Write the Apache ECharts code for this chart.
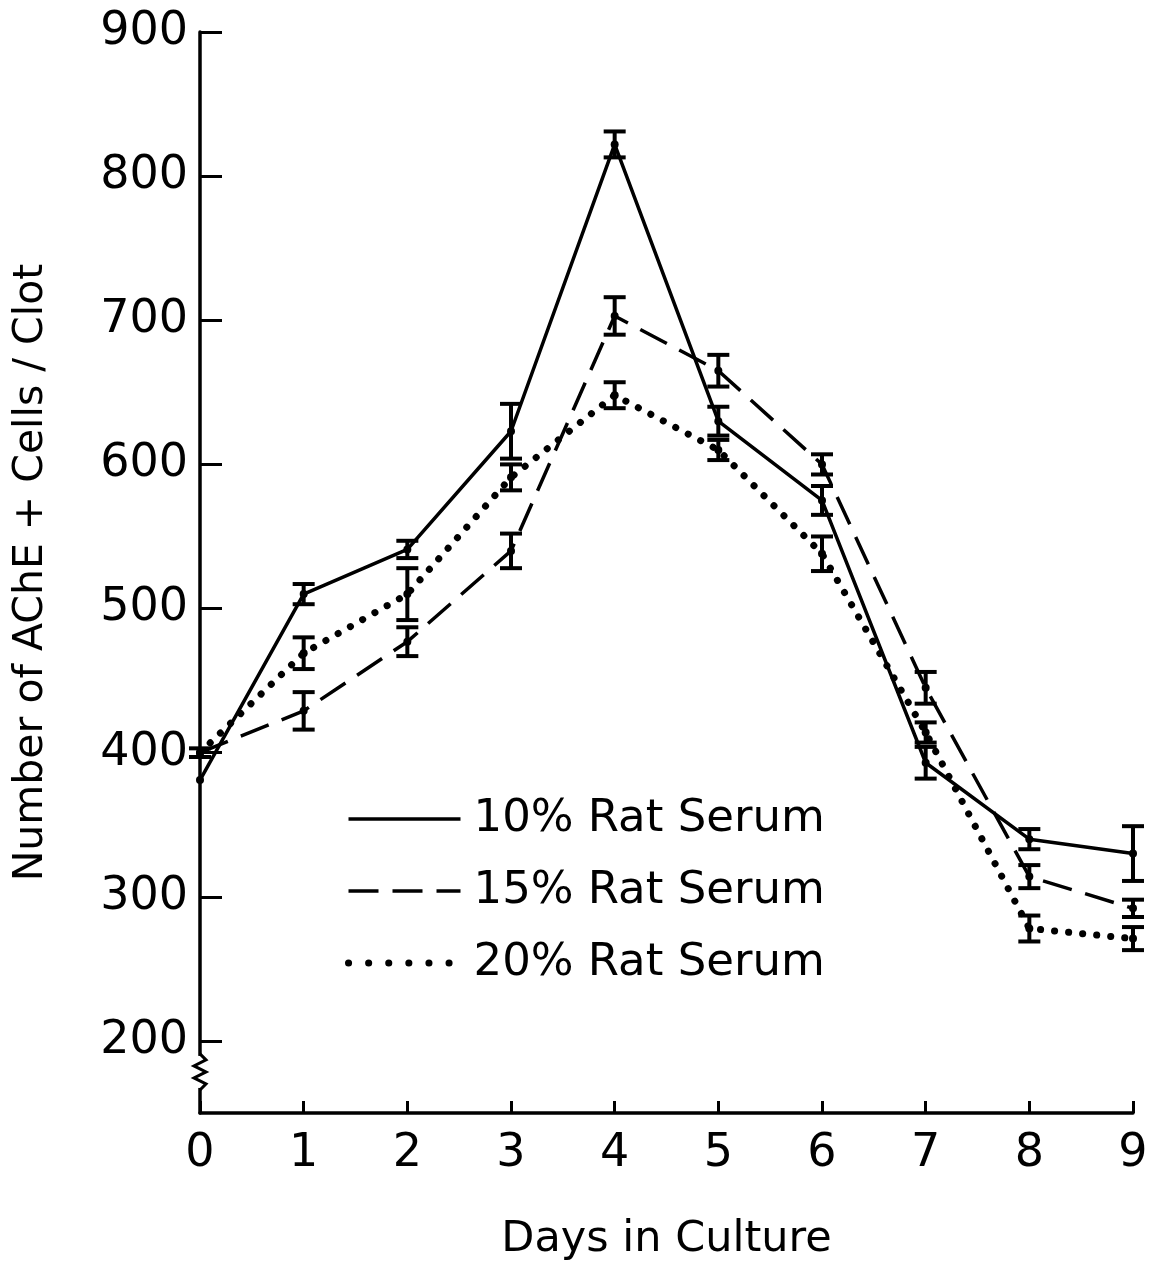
<!DOCTYPE html>
<html>
<head>
<meta charset="utf-8">
<script src="https://cdn.jsdelivr.net/npm/echarts@6/dist/echarts.min.js"></script>
<style>
html,body{margin:0;padding:0;background:#fff;}
#chart{width:1154px;height:1266px;}
</style>
</head>
<body>
<div id="chart"></div>
<script>
// ---- Data ----
var days = [0, 1, 2, 3, 4, 5, 6, 7, 8, 9];
var yTicks = [200, 300, 400, 500, 600, 700, 800, 900];

var serum10 = [381, 510, 541, 623, 822, 630, 575, 393, 340, 330];
var serum10Err = [0, 7, 6, 19, 9, 10, 10, 11, 7, 19];

var serum15 = [400, 429, 477, 540, 703, 665, 600, 445, 314, 292];
var serum15Err = [3, 13, 10, 12, 13, 11, 7, 11, 8, 6];

var serum20 = [400, 469, 510, 591, 648, 610, 538, 414, 278, 271];
var serum20Err = [0, 11, 18, 9, 9, 7, 12, 7, 9, 8];

var seriesNames = ['10% Rat Serum', '15% Rat Serum', '20% Rat Serum'];
var axisBreak = [[0, 191, 166]];

var FONT = 'DejaVu Sans';

var solidStyle = {color: '#000', width: 3.5, type: 'solid'};
var dashStyle = {color: '#000', width: 3.5, type: [30, 14]};
var dotStyle = {color: '#000', width: 7, type: [0.1, 14], cap: 'round'};
var dotLegendStyle = {color: '#000', width: 7, type: [0.1, 20], cap: 'round'};

function pairs(vals) {
  return days.map(function (d, i) { return [d, vals[i]]; });
}
function errData(vals, errs) {
  return days.map(function (d, i) { return [d, vals[i], errs[i]]; });
}

function errRender(params, api) {
  var x = api.value(0), y = api.value(1), e = api.value(2);
  var c = api.coord([x, y]);
  var children = [];
  if (e > 0) {
    var top = api.coord([x, y + e]);
    var bot = api.coord([x, y - e]);
    var hw = 11;
    children.push({type: 'line', shape: {x1: c[0], y1: top[1], x2: c[0], y2: bot[1]}, style: {stroke: '#000', lineWidth: 4}});
    children.push({type: 'line', shape: {x1: c[0] - hw, y1: top[1], x2: c[0] + hw, y2: top[1]}, style: {stroke: '#000', lineWidth: 4}});
    children.push({type: 'line', shape: {x1: c[0] - hw, y1: bot[1], x2: c[0] + hw, y2: bot[1]}, style: {stroke: '#000', lineWidth: 4}});
  }
  children.push({type: 'circle', shape: {cx: c[0], cy: c[1], r: 4}, style: {fill: '#000'}});
  return {type: 'group', children: children};
}

function breakRender(params, api) {
  var x = api.value(0);
  var a = api.coord([x, api.value(1)]);
  var b = api.coord([x, api.value(2)]);
  var h = b[1] - a[1];
  var pts = [[a[0], a[1]]];
  var n = 6;
  for (var i = 1; i < n; i++) {
    pts.push([a[0] + (i % 2 ? 6 : -6), a[1] + h * i / n]);
  }
  pts.push([b[0], b[1]]);
  return {
    type: 'group',
    children: [
      {type: 'rect', shape: {x: a[0] - 3, y: a[1] + 2, width: 6, height: h - 4}, style: {fill: '#fff'}},
      {type: 'polyline', shape: {points: pts}, style: {stroke: '#000', lineWidth: 3, fill: null}}
    ]
  };
}

var chart = echarts.init(document.getElementById('chart'), null, {renderer: 'canvas'});
chart.setOption({
  backgroundColor: '#fff',
  animation: false,
  grid: {left: 200, right: 21, top: 32, bottom: 149, containLabel: false},
  legend: {
    orient: 'vertical',
    left: 340,
    top: 788,
    itemWidth: 112,
    itemHeight: 20,
    itemGap: 20,
    itemStyle: {opacity: 0, borderWidth: 0},
    data: [
      {name: seriesNames[0], lineStyle: solidStyle},
      {name: seriesNames[1], lineStyle: dashStyle},
      {name: seriesNames[2], lineStyle: dotLegendStyle}
    ],
    textStyle: {fontFamily: FONT, fontSize: 45, color: '#000', lineHeight: 52, padding: [0, 0, 0, 8]}
  },
  xAxis: {
    type: 'value',
    min: 0, max: 9, interval: 1,
    name: 'Days in Culture',
    nameLocation: 'middle',
    nameGap: 105,
    nameTextStyle: {fontFamily: FONT, fontSize: 43, color: '#000'},
    axisLine: {show: true, lineStyle: {color: '#000', width: 3.5}},
    axisTick: {show: true, inside: true, length: 12, lineStyle: {color: '#000', width: 3}},
    axisLabel: {fontFamily: FONT, fontSize: 46, color: '#000', margin: 18},
    splitLine: {show: false}
  },
  yAxis: {
    type: 'value',
    min: 150, max: 900,
    name: 'Number of AChE + Cells / Clot',
    nameLocation: 'middle',
    nameGap: 148,
    nameRotate: 90,
    nameTextStyle: {fontFamily: FONT, fontSize: 41, color: '#000'},
    axisLine: {show: true, lineStyle: {color: '#000', width: 3.5}},
    axisTick: {show: true, inside: true, length: 22, lineStyle: {color: '#000', width: 3}, customValues: yTicks},
    axisLabel: {fontFamily: FONT, fontSize: 46, color: '#000', margin: 12, customValues: yTicks},
    splitLine: {show: false}
  },
  series: [
    {name: seriesNames[0], type: 'line', data: pairs(serum10), symbol: 'none', z: 3,
     lineStyle: solidStyle, itemStyle: {color: '#000'}},
    {name: seriesNames[1], type: 'line', data: pairs(serum15), symbol: 'none', z: 3,
     lineStyle: dashStyle, itemStyle: {color: '#000'}},
    {name: seriesNames[2], type: 'line', data: pairs(serum20), symbol: 'none', z: 3,
     lineStyle: dotStyle, itemStyle: {color: '#000'}},
    {type: 'custom', data: errData(serum10, serum10Err), renderItem: errRender, z: 4, silent: true},
    {type: 'custom', data: errData(serum15, serum15Err), renderItem: errRender, z: 4, silent: true},
    {type: 'custom', data: errData(serum20, serum20Err), renderItem: errRender, z: 4, silent: true},
    {type: 'custom', data: axisBreak, renderItem: breakRender, z: 5, silent: true, clip: false}
  ]
});
</script>
</body>
</html>
